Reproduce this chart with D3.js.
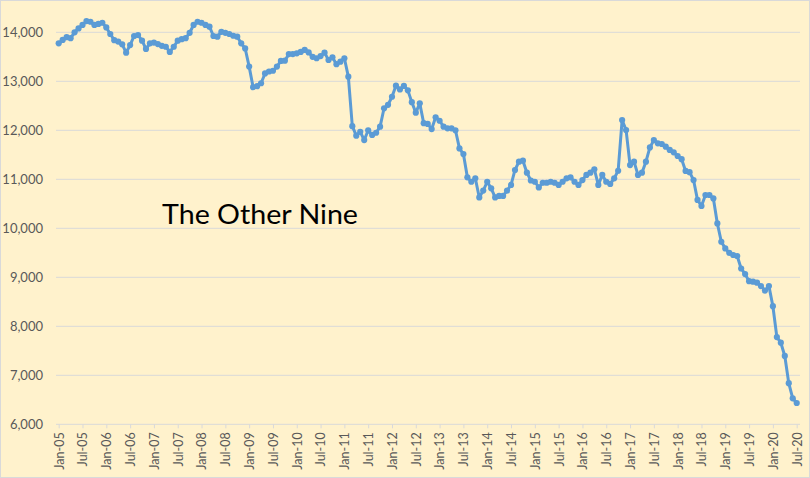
<!DOCTYPE html>
<html>
<head>
<meta charset="utf-8">
<script src="https://cdn.jsdelivr.net/npm/d3@7"></script>
<style>
  html, body { margin: 0; padding: 0; background: #FFF2CC; }
  svg { display: block; }
</style>
</head>
<body>
<svg id="chart" width="810" height="478"></svg>
<script>
// Categories: monthly, Jan-05 .. Jul-20
const startYear = 2005;
const monthNames = ["Jan","Feb","Mar","Apr","May","Jun","Jul","Aug","Sep","Oct","Nov","Dec"];

// Series values (kb/d), one row per year
const values2005 = [13775, 13845, 13900, 13880, 14000, 14080, 14150, 14230, 14215, 14150, 14170, 14195];
const values2006 = [14100, 13965, 13840, 13810, 13755, 13585, 13740, 13925, 13945, 13830, 13660, 13775];
const values2007 = [13790, 13760, 13725, 13705, 13600, 13705, 13830, 13860, 13880, 13990, 14150, 14215];
const values2008 = [14195, 14150, 14115, 13925, 13910, 14010, 13990, 13965, 13930, 13910, 13775, 13670];
const values2009 = [13300, 12880, 12900, 12960, 13160, 13200, 13215, 13300, 13415, 13420, 13555, 13555];
const values2010 = [13570, 13600, 13640, 13590, 13500, 13470, 13515, 13585, 13435, 13490, 13350, 13400];
const values2011 = [13470, 13095, 12085, 11890, 11970, 11800, 12000, 11905, 11950, 12075, 12450, 12520];
const values2012 = [12685, 12910, 12835, 12905, 12815, 12575, 12360, 12550, 12145, 12130, 12025, 12265];
const values2013 = [12195, 12075, 12040, 12040, 12000, 11630, 11515, 11040, 10950, 11020, 10630, 10770];
const values2014 = [10950, 10815, 10630, 10660, 10660, 10770, 10885, 11190, 11360, 11380, 11135, 10975];
const values2015 = [10950, 10835, 10930, 10930, 10950, 10930, 10885, 10950, 11020, 11040, 10950, 10885];
const values2016 = [10985, 11090, 11135, 11205, 10885, 11090, 10950, 10905, 11020, 11175, 12210, 12005];
const values2017 = [11290, 11360, 11090, 11135, 11360, 11650, 11800, 11735, 11720, 11665, 11600, 11550];
const values2018 = [11475, 11410, 11170, 11145, 10985, 10580, 10455, 10680, 10680, 10610, 10100, 9725];
const values2019 = [9590, 9500, 9455, 9435, 9180, 9065, 8920, 8910, 8890, 8820, 8730, 8820];
const values2020 = [8410, 7780, 7665, 7395, 6840, 6530, 6435];

const values = [].concat(values2005, values2006, values2007, values2008, values2009, values2010,
  values2011, values2012, values2013, values2014, values2015, values2016, values2017,
  values2018, values2019, values2020);

const yTicks = [6000, 7000, 8000, 9000, 10000, 11000, 12000, 13000, 14000];
const xTickLabels = ["Jan-05","Jul-05","Jan-06","Jul-06","Jan-07","Jul-07","Jan-08","Jul-08",
  "Jan-09","Jul-09","Jan-10","Jul-10","Jan-11","Jul-11","Jan-12","Jul-12","Jan-13","Jul-13",
  "Jan-14","Jul-14","Jan-15","Jul-15","Jan-16","Jul-16","Jan-17","Jul-17","Jan-18","Jul-18",
  "Jan-19","Jul-19","Jan-20","Jul-20"];
const titleText = "The Other Nine";

const categories = values.map((v, i) => {
  const y = startYear + Math.floor(i / 12);
  return monthNames[i % 12] + "-" + String(y).slice(2);
});

const FONT = "Lato, 'Liberation Sans', Arial, sans-serif";

const svg = d3.select("#chart");
const W = 810, H = 478;

svg.append("rect").attr("x", 0).attr("y", 0).attr("width", W).attr("height", H).attr("fill", "#FFF2CC");
svg.append("rect").attr("x", 0.5).attr("y", 0.5).attr("width", W - 1).attr("height", H - 1)
  .attr("fill", "none").attr("stroke", "#D9D9D9");

const x = d3.scalePoint().domain(categories).range([58.7, 796.7]);
const y = d3.scaleLinear().domain([6000, 14000]).range([424.3, 32.3]);

const plotLeft = 56, plotRight = 800;

// gridlines
svg.append("g").selectAll("line").data(yTicks.filter(t => t > 6000)).join("line")
  .attr("x1", plotLeft).attr("x2", plotRight)
  .attr("y1", d => y(d)).attr("y2", d => y(d))
  .attr("stroke", "#D9D9D9").attr("stroke-width", 1);

// x axis line
svg.append("line").attr("x1", plotLeft).attr("x2", plotRight)
  .attr("y1", y(6000)).attr("y2", y(6000))
  .attr("stroke", "#D9D9D9").attr("stroke-width", 1);

// y labels
svg.append("g").selectAll("text").data(yTicks).join("text")
  .attr("x", 43).attr("y", d => y(d) + 4.5)
  .attr("text-anchor", "end")
  .attr("font-family", FONT)
  .attr("font-size", 13).attr("fill", "#595959")
  .text(d => d3.format(",")(d));

// x ticks & labels
const xAxis = d3.axisBottom(x).tickValues(xTickLabels).tickSize(4).tickSizeOuter(0);
const gx = svg.append("g").attr("transform", `translate(0,${y(6000)})`).call(xAxis);
gx.select(".domain").remove();
gx.selectAll(".tick line").attr("stroke", "#D9D9D9");
gx.selectAll(".tick text")
  .attr("font-family", FONT)
  .attr("font-size", 12.5).attr("fill", "#595959")
  .attr("text-anchor", "end")
  .attr("transform", "rotate(-90)")
  .attr("x", -8).attr("y", 0).attr("dy", "0.35em");

// line
const line = d3.line().x((d, i) => x(categories[i])).y(d => y(d));
svg.append("path").datum(values)
  .attr("d", line).attr("fill", "none")
  .attr("stroke", "#5B9BD5").attr("stroke-width", 3)
  .attr("stroke-linejoin", "round");

svg.append("g").selectAll("circle").data(values).join("circle")
  .attr("cx", (d, i) => x(categories[i])).attr("cy", d => y(d))
  .attr("r", 3.1).attr("fill", "#5B9BD5");

// title text
svg.append("text").attr("x", 162).attr("y", 224)
  .attr("font-family", FONT)
  .attr("font-size", 26).attr("fill", "#000")
  .attr("textLength", 196).attr("lengthAdjust", "spacingAndGlyphs")
  .text(titleText);
</script>
</body>
</html>
